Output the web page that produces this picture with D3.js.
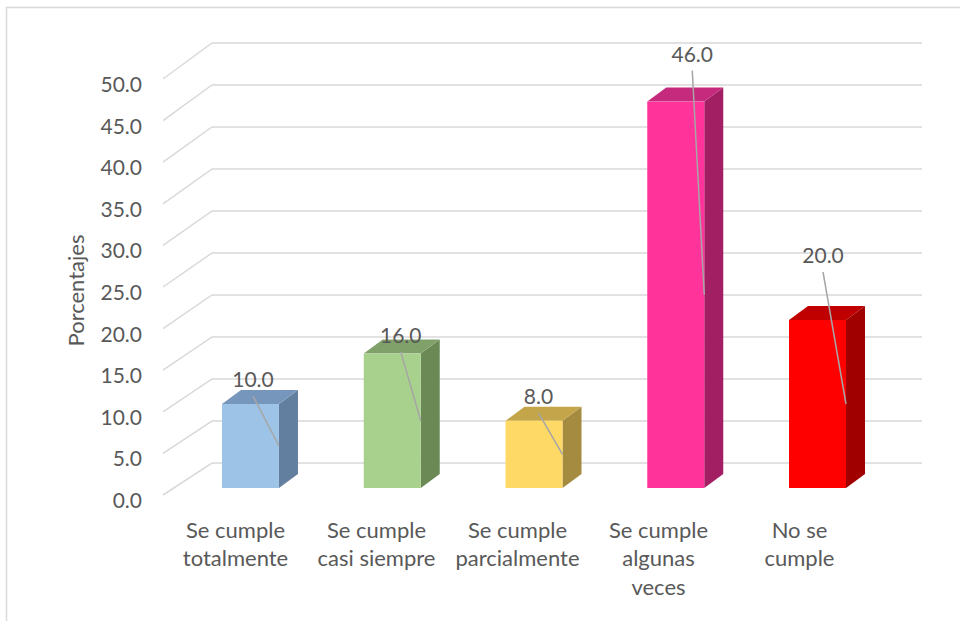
<!DOCTYPE html>
<html>
<head>
<meta charset="utf-8">
<script src="https://cdn.jsdelivr.net/npm/d3@7"></script>
<style>
  html, body { margin: 0; padding: 0; background: #ffffff; }
  svg { display: block; }
  text { font-family: Lato, "Open Sans", sans-serif; fill: #595959; }
</style>
</head>
<body>
<svg id="chart" width="960" height="621"></svg>
<script>
// ---- data ----
const categories = [
  ["Se cumple", "totalmente"],
  ["Se cumple", "casi siempre"],
  ["Se cumple", "parcialmente"],
  ["Se cumple", "algunas", "veces"],
  ["No se", "cumple"]
];
const values = [10.0, 16.0, 8.0, 46.0, 20.0];
const frontColors = ["#9DC3E6", "#A9D18E", "#FFD966", "#FF3399", "#FF0000"];
const topColors   = ["#7796BB", "#80A26A", "#C4A54A", "#C52A7D", "#C00000"];
const sideColors  = ["#627F9F", "#6A8954", "#A58B3F", "#A21F64", "#A00000"];
const yTicks = [0, 5, 10, 15, 20, 25, 30, 35, 40, 45, 50];
const yTitle = "Porcentajes";
// layout: manual data label offsets (dx from bar centre, dy from bar top)
const labelOffsets = [[2.5, -25], [8.5, -19], [4.5, -25], [16.5, -48], [5.5, -65]];

// ---- scales ----
const ids = d3.range(values.length);
const yFront = d3.scaleLinear().domain([0, 50]).range([495, 79]);
const yBack  = d3.scaleLinear().domain([0, 50]).range([463, 43]);
const yBar   = d3.scaleLinear().domain([0, 50]).range([488, 68]);
const xFront = d3.scaleBand().domain(ids).range([165, 870]);
const xBar   = d3.scaleBand().domain(ids).range([179.6, 888.4]).paddingInner(0.598).paddingOuter(0.299);
const backLeft = 212, backRight = 922, frontLeft = 163;
const depth = [19, -14];

const svg = d3.select("#chart");

// outer border
svg.append("rect").attr("x", 6.5).attr("y", 7.5).attr("width", 1000).attr("height", 700)
  .attr("fill", "none").attr("stroke", "#D9D9D9").attr("stroke-width", 1.5);

// gridlines: back wall + diagonal side wall
const grid = svg.append("g").attr("stroke", "#D9D9D9").attr("stroke-width", 1.5).attr("fill", "none");
grid.selectAll("path.g").data(yTicks).join("path")
  .attr("d", v => `M${frontLeft},${yFront(v)}L${backLeft},${yBack(v)}L${backRight},${yBack(v)}`);

// y tick labels
svg.append("g").selectAll("text").data(yTicks).join("text")
  .attr("x", 142).attr("y", v => yFront(v) + 13)
  .attr("text-anchor", "end").attr("font-size", 21)
  .text(v => d3.format(".1f")(v));

// y title
svg.append("text")
  .attr("transform", `translate(84,290.5) rotate(-90)`)
  .attr("text-anchor", "middle").attr("font-size", 22)
  .text(yTitle);

// bars
const bars = svg.append("g");
ids.forEach(i => {
  const x0 = xBar(i), x1 = xBar(i) + xBar.bandwidth();
  const yt = yBar(values[i]), yb = yBar(0);
  const [dx, dy] = depth;
  bars.append("path")
    .attr("d", `M${x1},${yt}L${x1 + dx},${yt + dy}L${x1 + dx},${yb + dy}L${x1},${yb}Z`)
    .attr("fill", sideColors[i]);
  bars.append("path")
    .attr("d", `M${x0},${yt}L${x1},${yt}L${x1 + dx},${yt + dy}L${x0 + dx},${yt + dy}Z`)
    .attr("fill", topColors[i]);
  bars.append("rect")
    .attr("x", x0).attr("y", yt).attr("width", x1 - x0).attr("height", yb - yt)
    .attr("fill", frontColors[i]);
});

// data labels with leader lines
const lab = svg.append("g");
ids.forEach(i => {
  const cx = xBar(i) + xBar.bandwidth() / 2 + labelOffsets[i][0];
  const cy = yBar(values[i]) + labelOffsets[i][1];
  const x1 = xBar(i) + xBar.bandwidth();
  const ym = (yBar(values[i]) + yBar(0)) / 2;
  lab.append("line")
    .attr("x1", cx).attr("y1", cy + 17).attr("x2", x1).attr("y2", ym)
    .attr("stroke", "#A6A6A6").attr("stroke-width", 1.5);
  lab.append("text")
    .attr("x", cx).attr("y", cy + 8)
    .attr("text-anchor", "middle").attr("font-size", 21)
    .text(d3.format(".1f")(values[i]));
});

// category labels
const cat = svg.append("g");
ids.forEach(i => {
  const t = cat.append("text")
    .attr("x", xFront(i) + xFront.bandwidth() / 2)
    .attr("y", 537.5)
    .attr("text-anchor", "middle").attr("font-size", 22);
  categories[i].forEach((line, k) => {
    t.append("tspan").attr("x", xFront(i) + xFront.bandwidth() / 2)
      .attr("dy", k === 0 ? 0 : 28.5).text(line);
  });
});
</script>
</body>
</html>
